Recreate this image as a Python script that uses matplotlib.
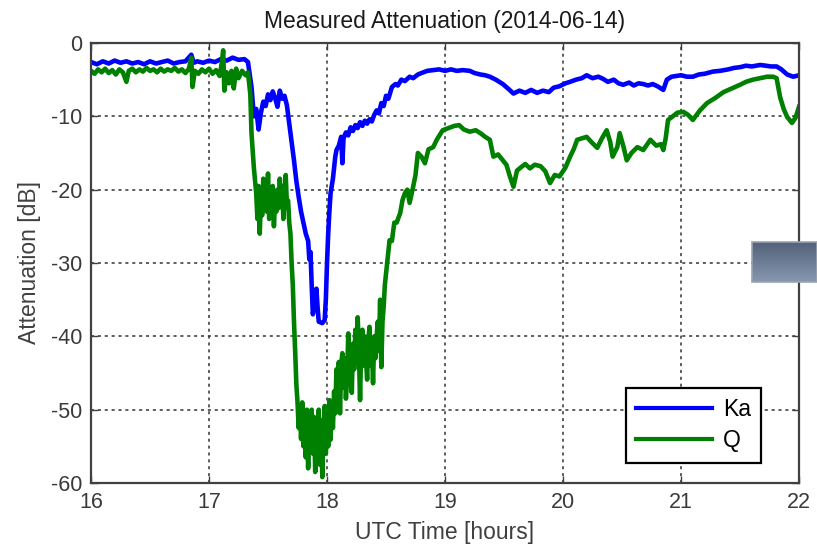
import numpy as np
import matplotlib
matplotlib.use("Agg")
import matplotlib.pyplot as plt
from matplotlib.colors import LinearSegmentedColormap
from matplotlib.patches import Rectangle

plt.rcParams['font.family'] = ['Liberation Sans', 'DejaVu Sans']
plt.rcParams['axes.unicode_minus'] = False

# Ka-band attenuation [dB] versus UTC time [hours]
ka_time = [
    16.00, 16.05, 16.10, 16.15, 16.20, 16.25, 16.30, 16.35, 16.40, 16.45,
    16.50, 16.55, 16.60, 16.65, 16.70, 16.75, 16.80, 16.85, 16.87, 16.90,
    16.95, 17.00, 17.05, 17.10, 17.15, 17.20, 17.25, 17.30, 17.33, 17.36,
    17.38, 17.40, 17.42, 17.44, 17.46, 17.48, 17.50, 17.52, 17.54, 17.56,
    17.58, 17.60, 17.62, 17.64, 17.66, 17.68, 17.70, 17.72, 17.74, 17.76,
    17.78, 17.80, 17.82, 17.84, 17.85, 17.86, 17.87, 17.88, 17.90, 17.91,
    17.92, 17.93, 17.96, 17.98, 17.99, 18.00, 18.01, 18.02, 18.03, 18.05,
    18.07, 18.08, 18.10, 18.12, 18.13, 18.14, 18.16, 18.18, 18.20, 18.22,
    18.24, 18.26, 18.28, 18.30, 18.32, 18.34, 18.36, 18.38, 18.40, 18.42,
    18.44, 18.46, 18.48, 18.50, 18.52, 18.55, 18.58, 18.60, 18.63, 18.66,
    18.70, 18.73, 18.77, 18.80, 18.85, 18.90, 18.95, 19.00, 19.05, 19.10,
    19.15, 19.21, 19.25, 19.30, 19.34, 19.38, 19.43, 19.49, 19.54, 19.58,
    19.63, 19.68, 19.73, 19.78, 19.83, 19.88, 19.92, 19.97, 20.02, 20.06,
    20.11, 20.16, 20.20, 20.25, 20.30, 20.34, 20.38, 20.43, 20.47, 20.51,
    20.56, 20.60, 20.64, 20.68, 20.72, 20.76, 20.80, 20.85, 20.88, 20.92,
    20.96, 21.00, 21.05, 21.10, 21.15, 21.20, 21.27, 21.33, 21.40, 21.45,
    21.50, 21.55, 21.60, 21.67, 21.72, 21.76, 21.81, 21.85, 21.90, 21.95,
    22.00,
]
ka_atten = [
    -2.6, -2.9, -2.5, -2.8, -2.4, -2.7, -2.5, -2.8, -2.6, -2.9,
    -2.5, -2.8, -2.6, -2.4, -2.8, -2.6, -2.5, -1.6, -2.7, -2.5,
    -2.7, -2.4, -2.6, -2.2, -2.4, -2.0, -2.3, -2.2, -2.6, -6.0,
    -10.0, -9.0, -11.8, -9.5, -8.0, -8.6, -7.0, -7.8, -6.6, -7.5,
    -8.7, -6.5, -7.6, -7.2, -8.5, -11.0, -13.5, -16.0, -18.8, -21.0,
    -23.0, -24.5, -26.0, -27.0, -29.5, -28.5, -33.0, -37.0, -35.0, -33.5,
    -36.0, -38.0, -38.2, -37.8, -35.0, -30.0, -26.0, -23.0, -20.5, -18.5,
    -15.5, -14.6, -14.0, -12.8, -16.4, -13.0, -12.2, -12.6, -11.5, -12.0,
    -11.2, -11.6, -10.8, -11.3, -10.6, -11.0, -10.4, -10.7, -9.8, -9.2,
    -9.6, -8.2, -8.6, -7.2, -7.6, -6.0, -5.6, -5.8, -5.0, -5.2,
    -4.6, -4.8, -4.3, -4.1, -3.8, -3.7, -3.6, -3.8, -3.6, -3.8,
    -3.7, -3.8, -4.1, -4.3, -4.4, -4.6, -5.0, -5.6, -6.3, -6.9,
    -6.5, -6.8, -6.4, -6.8, -6.5, -6.7, -6.1, -5.9, -5.5, -5.3,
    -5.0, -4.8, -4.4, -4.8, -4.6, -4.9, -5.3, -5.0, -5.5, -5.7,
    -5.4, -5.8, -5.5, -5.6, -5.8, -5.6, -5.9, -6.4, -5.0, -4.6,
    -4.5, -4.4, -4.6, -4.6, -4.3, -4.2, -3.9, -3.8, -3.6, -3.4,
    -3.3, -3.1, -3.2, -3.0, -3.1, -3.2, -3.2, -3.6, -4.3, -4.6,
    -4.4,
]

# Q-band attenuation [dB] versus UTC time [hours]
q_time = [
    16.00, 16.03, 16.06, 16.09, 16.12, 16.15, 16.18, 16.21, 16.24, 16.27,
    16.30, 16.32, 16.35, 16.38, 16.41, 16.44, 16.47, 16.50, 16.53, 16.56,
    16.59, 16.62, 16.65, 16.68, 16.71, 16.74, 16.77, 16.80, 16.83, 16.85,
    16.86, 16.88, 16.91, 16.94, 16.97, 17.00, 17.03, 17.06, 17.09, 17.11,
    17.12, 17.13, 17.15, 17.17, 17.19, 17.21, 17.23, 17.25, 17.28, 17.31,
    17.33, 17.35, 17.36, 17.38, 17.40, 17.41, 17.42, 17.43, 17.44, 17.45,
    17.46, 17.47, 17.48, 17.49, 17.50, 17.51, 17.52, 17.53, 17.54, 17.55,
    17.56, 17.57, 17.58, 17.59, 17.60, 17.61, 17.62, 17.63, 17.64, 17.65,
    17.66, 17.67, 17.68, 17.69, 17.70, 17.71, 17.72, 17.73, 17.74, 17.75,
    17.76, 17.77, 17.78, 17.79, 17.80, 17.81, 17.82, 17.83, 17.84, 17.85,
    17.86, 17.87, 17.88, 17.89, 17.90, 17.91, 17.92, 17.93, 17.94, 17.95,
    17.96, 17.97, 17.98, 17.99, 18.00, 18.01, 18.02, 18.03, 18.04, 18.05,
    18.06, 18.07, 18.08, 18.09, 18.10, 18.11, 18.12, 18.13, 18.14, 18.15,
    18.16, 18.17, 18.18, 18.19, 18.20, 18.21, 18.22, 18.23, 18.24, 18.25,
    18.26, 18.27, 18.28, 18.29, 18.30, 18.31, 18.32, 18.33, 18.34, 18.35,
    18.36, 18.37, 18.38, 18.39, 18.40, 18.41, 18.42, 18.43, 18.44, 18.45,
    18.46, 18.47, 18.48, 18.49, 18.51, 18.53, 18.55, 18.57, 18.59, 18.62,
    18.64, 18.66, 18.68, 18.70, 18.73, 18.75, 18.77, 18.80, 18.83, 18.86,
    18.90, 18.93, 18.98, 19.03, 19.08, 19.12, 19.16, 19.21, 19.26, 19.30,
    19.34, 19.38, 19.41, 19.45, 19.49, 19.52, 19.55, 19.58, 19.61, 19.64,
    19.68, 19.72, 19.76, 19.81, 19.85, 19.89, 19.93, 19.97, 20.02, 20.06,
    20.09, 20.12, 20.16, 20.20, 20.24, 20.29, 20.33, 20.37, 20.40, 20.42,
    20.46, 20.48, 20.51, 20.54, 20.58, 20.63, 20.68, 20.74, 20.79, 20.83,
    20.85, 20.87, 20.89, 20.93, 20.97, 21.02, 21.06, 21.10, 21.16, 21.22,
    21.29, 21.36, 21.43, 21.50, 21.55, 21.61, 21.67, 21.73, 21.78, 21.81,
    21.84, 21.87, 21.90, 21.94, 21.97, 22.00,
]
q_atten = [
    -3.8, -4.2, -3.6, -4.0, -3.5, -4.1, -3.7, -4.3, -3.6, -4.0,
    -5.3, -3.8, -3.5, -4.0, -3.6, -3.9, -3.4, -3.8, -3.6, -4.0,
    -3.5, -3.9, -3.6, -3.8, -3.4, -3.9, -3.6, -4.1, -3.5, -2.0,
    -6.0, -3.8, -4.2, -3.6, -4.0, -3.5, -4.2, -3.7, -4.5, -2.5,
    -1.0, -6.5, -4.0, -5.5, -3.8, -6.2, -3.5, -4.8, -3.8, -4.4,
    -4.0, -7.0, -12.3, -17.0, -20.5, -24.0, -19.5, -26.0, -21.0, -23.5,
    -18.5, -22.5, -20.0, -23.0, -17.8, -24.0, -20.5, -22.5, -19.5, -25.0,
    -21.5, -23.0, -20.0, -22.5, -18.5, -21.5, -19.5, -24.0, -21.0, -18.0,
    -22.0, -21.5, -24.5, -26.0, -30.0, -33.0, -38.0, -42.0, -46.5, -49.0,
    -52.5, -49.5, -54.0, -49.0, -55.0, -50.5, -56.5, -50.0, -58.0, -51.5,
    -54.0, -50.0, -56.0, -51.0, -58.5, -52.5, -55.5, -50.0, -57.5, -51.5,
    -59.2, -53.0, -49.5, -56.0, -51.0, -55.0, -48.7, -54.1, -49.0, -52.5,
    -47.5, -50.5, -44.5, -49.0, -43.5, -50.5, -44.0, -42.3, -47.0, -43.0,
    -48.5, -45.9, -39.6, -44.0, -41.5, -47.7, -41.0, -44.5, -39.1, -43.5,
    -37.4, -42.0, -48.7, -41.0, -39.1, -44.0, -40.0, -43.0, -45.9, -40.5,
    -38.7, -44.0, -41.0, -46.4, -40.0, -43.0, -40.1, -38.0, -42.0, -35.0,
    -44.2, -38.0, -36.0, -33.0, -30.0, -26.9, -27.0, -24.5, -24.5, -23.2,
    -21.4, -20.5, -20.0, -21.8, -19.6, -18.0, -15.0, -15.5, -16.4, -14.5,
    -14.2, -13.2, -11.9, -11.6, -11.3, -11.2, -11.8, -12.1, -11.9, -12.3,
    -12.8, -13.2, -15.5, -15.2, -16.0, -16.6, -18.2, -19.6, -17.4, -17.0,
    -16.5, -17.1, -16.6, -16.8, -17.5, -19.1, -18.0, -18.2, -17.0, -15.5,
    -14.5, -13.2, -13.0, -12.8, -13.5, -14.3, -13.0, -11.9, -13.5, -15.5,
    -14.2, -12.3, -14.0, -16.0, -15.0, -14.2, -14.6, -13.2, -14.0, -13.8,
    -14.6, -13.0, -10.5, -10.0, -9.5, -9.4, -9.8, -10.5, -9.2, -8.2,
    -7.5, -6.7, -6.2, -5.7, -5.3, -5.0, -4.8, -4.6, -4.6, -4.8,
    -7.4, -9.0, -10.1, -10.9, -10.2, -8.7,
]

x_ticks = [16, 17, 18, 19, 20, 21, 22]
y_ticks = [-60, -50, -40, -30, -20, -10, 0]

fig = plt.figure(figsize=(8.17, 5.51), dpi=100)
ax = fig.add_axes([0.1114, 0.1234, 0.8666, 0.7986])

ax.plot(ka_time, ka_atten, color='#0000ff', lw=3.3, label='Ka', solid_joinstyle='round')
ax.plot(q_time, q_atten, color='#008000', lw=3.3, label='Q', solid_joinstyle='round')

ax.set_xlim(16, 22)
ax.set_ylim(-60, 0)
ax.set_xticks(x_ticks)
ax.set_yticks(y_ticks)

edge = '#404040'
for sp in ax.spines.values():
    sp.set_color(edge)
    sp.set_linewidth(1.6)
ax.tick_params(direction='in', length=5, width=1.0, color=edge,
               top=True, right=True, labelsize=15.5, labelcolor='#3a3a3a', pad=6.5)
ax.grid(True, color='#333333', linestyle=(0, (2, 2.5)), linewidth=1.1)

ax.set_title('Measured Attenuation (2014-06-14)', fontsize=16.5, color='#1a1a1a', pad=11)
ax.set_xlabel('UTC Time [hours]', fontsize=16.5, color='#404040', labelpad=6)
ax.set_ylabel('Attenuation [dB]', fontsize=16.5, color='#404040', labelpad=7)

leg = ax.legend(loc='lower left', bbox_to_anchor=(0.755, 0.046), borderaxespad=0,
                fontsize=16.5, handlelength=3.3, handletextpad=0.5,
                borderpad=0.45, labelspacing=0.35, fancybox=False, framealpha=1)
leg.get_frame().set_edgecolor('black')
leg.get_frame().set_linewidth(1.6)
for ln in leg.get_lines():
    ln.set_linewidth(3.0)

# slate-coloured gradient tab on the right edge
tab = fig.add_axes([0.9204, 0.488, 0.0796, 0.0735], zorder=5)
slate = LinearSegmentedColormap.from_list('slate', ['#52617a', '#8797b0'])
tab.imshow(np.linspace(0, 1, 64).reshape(-1, 1), aspect='auto', cmap=slate,
           extent=[0, 1, 0, 1], origin='upper')
tab.add_patch(Rectangle((0, 0), 1, 1, fill=False, edgecolor='#9aa3b0', lw=1.2,
                        transform=tab.transAxes, clip_on=False))
tab.set_axis_off()

fig.savefig('out.png', dpi=100)
